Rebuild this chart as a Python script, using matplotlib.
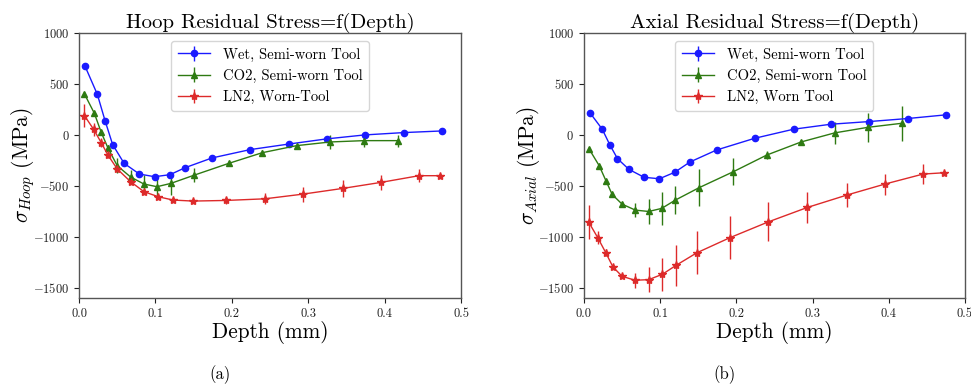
import numpy as np
import matplotlib
matplotlib.use("Agg")
import matplotlib.pyplot as plt

plt.rcParams['font.family'] = 'serif'
plt.rcParams['font.serif'] = ['cmr10', 'DejaVu Serif']
plt.rcParams['mathtext.fontset'] = 'cm'
plt.rcParams['axes.formatter.use_mathtext'] = True
plt.rcParams['axes.unicode_minus'] = True

# ---------------- Hoop data ----------------
hoop_wet_x = [0.008, 0.024, 0.034, 0.044, 0.059, 0.079, 0.099, 0.119, 0.139, 0.174,
              0.224, 0.275, 0.324, 0.374, 0.425, 0.475]
hoop_wet_y = [672, 397, 141, -95, -279, -384, -410, -390, -321, -226,
              -144, -89, -39, 0, 23, 39]
hoop_wet_e = [10, 10, 10, 10, 10, 15, 15, 15, 15, 15, 15, 15, 25, 15, 15, 10]

hoop_co2_x = [0.007, 0.020, 0.029, 0.038, 0.050, 0.0675, 0.085, 0.102, 0.120, 0.151,
              0.196, 0.240, 0.285, 0.329, 0.373, 0.418]
hoop_co2_y = [403, 213, 26, -131, -302, -413, -482, -508, -476, -394,
              -279, -174, -105, -69, -56, -56]
hoop_co2_e = [20, 20, 20, 30, 73, 73, 86, 115, 110, 70, 25, 25, 20, 65, 60, 60]

hoop_ln2_x = [0.007, 0.019, 0.029, 0.038, 0.050, 0.0675, 0.085, 0.104, 0.123, 0.149,
              0.192, 0.243, 0.293, 0.345, 0.395, 0.445, 0.473]
hoop_ln2_y = [190, 56, -75, -200, -334, -459, -557, -607, -639, -649,
              -643, -627, -581, -525, -466, -400, -400]
hoop_ln2_e = [110, 65, 40, 25, 20, 20, 25, 15, 10, 10, 38, 55, 73, 80, 73, 62, 15]

# ---------------- Axial data ----------------
ax_wet_x = hoop_wet_x
ax_wet_y = [216, 56, -98, -233, -338, -416, -430, -367, -266, -148,
            -33, 56, 105, 131, 161, 197]
ax_wet_e = [15, 15, 15, 15, 15, 20, 25, 15, 15, 15, 15, 15, 15, 15, 15, 15]

ax_co2_x = [0.007, 0.020, 0.029, 0.037, 0.050, 0.0675, 0.085, 0.102, 0.120, 0.151,
            0.196, 0.240, 0.285, 0.329, 0.373, 0.418]
ax_co2_y = [-141, -302, -452, -584, -679, -738, -751, -721, -639, -518,
            -361, -197, -69, 20, 75, 115]
ax_co2_e = [20, 20, 20, 20, 20, 70, 120, 165, 136, 180, 130, 40, 20, 105, 140, 170]

ax_ln2_x = [0.006, 0.018, 0.0285, 0.038, 0.050, 0.067, 0.085, 0.103, 0.121, 0.148,
            0.191, 0.242, 0.293, 0.345, 0.395, 0.445, 0.473]
ax_ln2_y = [-853, -1007, -1154, -1295, -1387, -1426, -1420, -1367, -1279, -1157,
            -1010, -853, -712, -590, -482, -384, -371]
ax_ln2_e = [164, 65, 35, 20, 20, 72, 120, 164, 200, 210, 210, 190, 150, 118, 103, 94, 20]

C_BLUE = '#1a1aff'
C_GREEN = '#2e7a12'
C_RED = '#dd2a2a'

fig = plt.figure(figsize=(9.71, 3.87), dpi=100)
axL = fig.add_axes([0.0814, 0.2300, 0.3934, 0.6847])
axR = fig.add_axes([0.6014, 0.2300, 0.3924, 0.6847])


def draw(ax, series, title, ylabel, caption):
    for (x, y, e, col, mk, ms, lab) in series:
        ax.errorbar(x, y, yerr=e, color=col, marker=mk, markersize=ms,
                    linewidth=1.0, elinewidth=1.0, capsize=0, label=lab)
    ax.set_xlim(0, 0.5)
    ax.set_ylim(-1600, 1000)
    ax.set_xticks([0.0, 0.1, 0.2, 0.3, 0.4, 0.5])
    ax.set_xticklabels(['0.0', '0.1', '0.2', '0.3', '0.4', '0.5'])
    ax.set_yticks([-1500, -1000, -500, 0, 500, 1000])
    ax.tick_params(labelsize=9, length=3.5, width=0.8, colors='#222222')
    for s in ax.spines.values():
        s.set_color('#555555')
        s.set_linewidth(1.0)
    ax.set_title(title, fontsize=15, pad=4)
    ax.set_xlabel('Depth (mm)', fontsize=15.3, labelpad=1)
    ax.set_ylabel(ylabel, fontsize=15.3)
    ax.yaxis.set_label_coords(-0.11, 0.5)
    leg = ax.legend(loc='upper center', fontsize=10.5, frameon=True,
                    bbox_to_anchor=(0.5, 0.97), borderaxespad=0.0,
                    handlelength=2.2, borderpad=0.45, labelspacing=0.5,
                    handletextpad=0.9)
    leg.get_frame().set_edgecolor('#cccccc')
    ax.text(0.37, -0.29, caption, transform=ax.transAxes, fontsize=12,
            ha='center', va='center')


draw(axL, [
    (hoop_wet_x, hoop_wet_y, hoop_wet_e, C_BLUE, 'o', 4.5, 'Wet, Semi-worn Tool'),
    (hoop_co2_x, hoop_co2_y, hoop_co2_e, C_GREEN, '^', 5, 'CO2, Semi-worn Tool'),
    (hoop_ln2_x, hoop_ln2_y, hoop_ln2_e, C_RED, '*', 6, 'LN2, Worn-Tool'),
], 'Hoop Residual Stress=f(Depth)', r'$\sigma_{Hoop}$ (MPa)', '(a)')

draw(axR, [
    (ax_wet_x, ax_wet_y, ax_wet_e, C_BLUE, 'o', 4.5, 'Wet, Semi-worn Tool'),
    (ax_co2_x, ax_co2_y, ax_co2_e, C_GREEN, '^', 5, 'CO2, Semi-worn Tool'),
    (ax_ln2_x, ax_ln2_y, ax_ln2_e, C_RED, '*', 6, 'LN2, Worn Tool'),
], 'Axial Residual Stress=f(Depth)', r'$\sigma_{Axial}$ (MPa)', '(b)')

fig.savefig('out.png', dpi=100, facecolor='white')
